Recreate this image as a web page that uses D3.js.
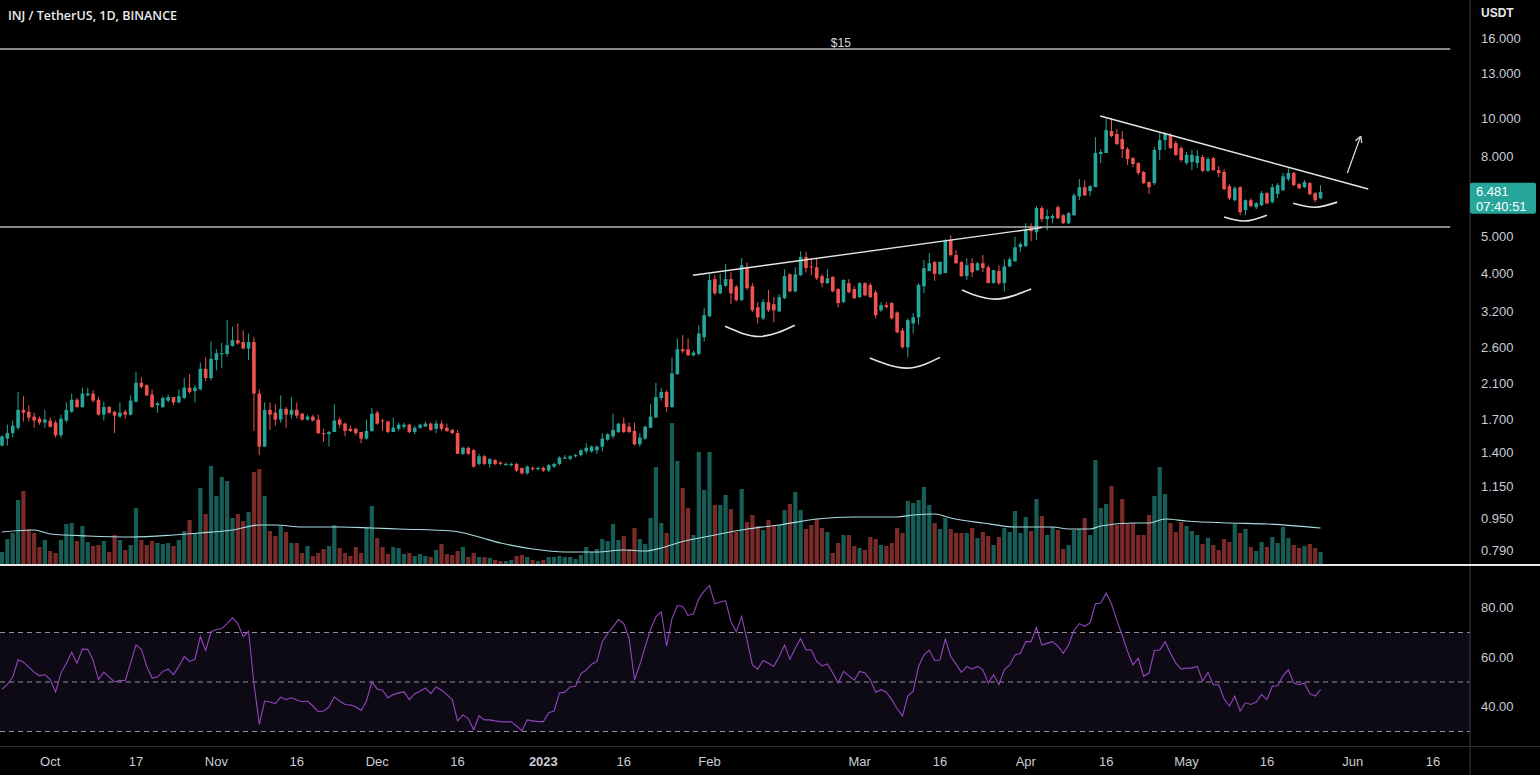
<!DOCTYPE html>
<html><head><meta charset="utf-8">
<script src="https://cdn.jsdelivr.net/npm/d3@7"></script>
<style>html,body{margin:0;padding:0;background:#000;overflow:hidden}svg{display:block}</style>
</head><body><svg id="c" width="1540" height="775"></svg>
<script>
// ---- data (daily candles from 2022-09-22) ----
const startDate = "2022-09-22";
const opens = [1.46,1.52,1.57,1.62,1.80,1.78,1.73,1.71,1.67,1.69,
1.67,1.55,1.69,1.78,1.91,1.83,1.96,1.98,1.91,1.75,
1.83,1.78,1.73,1.78,1.75,1.89,2.11,2.08,1.97,1.85,
1.83,1.90,1.94,1.88,1.93,2.05,2.01,2.03,2.29,2.17,
2.41,2.50,2.50,2.62,2.71,2.68,2.58,2.68,1.98,1.45,
1.80,1.77,1.70,1.81,1.75,1.80,1.76,1.70,1.73,1.70,
1.57,1.56,1.58,1.70,1.66,1.61,1.61,1.58,1.52,1.59,
1.77,1.69,1.68,1.58,1.61,1.63,1.65,1.58,1.62,1.63,
1.66,1.61,1.66,1.62,1.60,1.57,1.39,1.44,1.42,1.31,
1.37,1.31,1.34,1.32,1.30,1.30,1.31,1.28,1.24,1.28,
1.27,1.28,1.26,1.29,1.31,1.35,1.35,1.37,1.38,1.41,
1.41,1.42,1.45,1.51,1.54,1.58,1.66,1.63,1.59,1.47,
1.52,1.62,1.72,1.93,2.00,1.83,2.22,2.57,2.57,2.48,
2.50,2.76,3.12,3.88,3.57,3.73,3.88,3.71,3.43,4.16,
3.72,3.29,3.08,3.39,3.35,3.21,3.47,3.99,3.61,3.97,
4.42,4.18,4.16,3.95,3.79,3.93,3.66,3.39,3.79,3.66,
3.49,3.79,3.75,3.59,3.23,3.33,3.37,3.19,2.87,2.60,
2.99,3.10,3.72,4.07,4.29,4.00,4.02,4.88,4.47,4.29,
3.95,4.26,4.09,4.26,4.16,3.79,4.07,3.79,4.18,4.31,
4.68,4.71,5.26,5.11,5.89,5.52,5.55,5.92,5.65,5.39,
5.65,6.31,6.66,6.51,6.66,8.09,8.14,9.26,9.10,8.84,
8.33,7.90,7.67,7.28,6.86,6.82,8.29,8.78,9.04,8.63,
8.38,7.67,7.72,7.67,7.95,7.33,7.90,7.36,7.28,6.70,
6.17,6.66,5.82,6.17,5.92,5.99,6.43,6.10,6.40,6.54,
6.98,7.24,6.78,6.66,6.82,6.43,6.24];
const highs = [1.55,1.65,1.69,2.00,1.95,1.85,1.77,1.73,1.80,1.72,
1.69,1.75,1.88,1.98,1.93,2.05,2.05,2.02,1.94,1.89,
1.84,1.79,1.88,1.80,1.96,2.25,2.18,2.09,2.03,1.89,
1.95,1.97,1.94,2.03,2.17,2.22,2.08,2.38,2.45,2.69,
2.57,2.67,3.05,2.93,2.99,2.87,2.82,2.76,2.03,1.88,
1.88,1.86,1.96,1.83,1.94,1.88,1.77,1.75,1.75,1.75,
1.61,1.59,1.86,1.72,1.67,1.64,1.62,1.58,1.70,1.82,
1.79,1.71,1.69,1.72,1.67,1.67,1.66,1.64,1.66,1.68,
1.67,1.69,1.69,1.66,1.61,1.60,1.45,1.45,1.43,1.39,
1.38,1.35,1.35,1.33,1.32,1.32,1.32,1.28,1.30,1.29,
1.29,1.29,1.31,1.32,1.37,1.38,1.38,1.39,1.43,1.48,
1.46,1.46,1.57,1.57,1.76,1.67,1.72,1.67,1.67,1.57,
1.64,1.86,2.11,2.05,2.02,2.45,2.74,2.79,2.74,2.55,
2.96,3.27,4.00,3.97,4.00,4.24,4.04,3.75,4.39,4.28,
3.79,3.39,3.45,3.64,3.49,3.55,4.11,4.02,4.16,4.57,
4.55,4.39,4.39,4.00,4.11,3.95,3.68,3.88,3.88,3.72,
3.81,3.81,3.79,3.64,3.39,3.39,3.39,3.21,2.91,3.08,
3.18,3.79,4.34,4.52,4.31,4.31,4.91,5.02,4.60,4.31,
4.39,4.39,4.29,4.47,4.21,4.09,4.21,4.36,4.42,4.97,
4.82,5.39,5.39,5.96,5.96,5.85,5.68,5.99,5.68,5.75,
6.43,6.98,6.94,6.74,8.94,8.33,9.94,9.99,9.37,9.26,
8.43,7.95,7.72,7.33,6.90,8.43,9.20,9.20,9.15,8.73,
8.48,8.19,8.29,8.29,8.05,7.95,7.95,7.54,7.40,6.78,
6.70,6.70,6.20,6.24,6.10,6.51,6.47,6.78,6.82,7.24,
7.50,7.28,6.82,6.94,6.86,6.47,6.74];
const lows = [1.45,1.46,1.53,1.60,1.68,1.68,1.62,1.65,1.62,1.62,
1.53,1.53,1.67,1.77,1.82,1.82,1.95,1.88,1.74,1.69,
1.76,1.57,1.72,1.71,1.74,1.88,2.04,1.95,1.82,1.77,
1.82,1.88,1.85,1.87,1.92,1.98,1.88,2.02,2.13,2.14,
2.27,2.30,2.46,2.61,2.64,2.57,2.41,1.59,1.38,1.45,
1.60,1.64,1.67,1.62,1.71,1.71,1.69,1.69,1.68,1.56,
1.49,1.45,1.58,1.62,1.54,1.58,1.55,1.48,1.51,1.58,
1.65,1.59,1.57,1.58,1.59,1.61,1.57,1.56,1.61,1.63,
1.59,1.57,1.59,1.58,1.56,1.39,1.38,1.38,1.28,1.30,
1.30,1.28,1.30,1.30,1.30,1.29,1.25,1.23,1.23,1.26,
1.26,1.25,1.25,1.28,1.30,1.35,1.34,1.36,1.37,1.39,
1.40,1.39,1.41,1.50,1.52,1.57,1.57,1.57,1.46,1.45,
1.51,1.62,1.72,1.90,1.78,1.82,2.21,2.51,2.47,2.46,
2.48,2.69,3.10,3.53,3.55,3.71,3.35,3.40,3.41,3.64,
3.20,2.99,3.05,3.20,3.01,3.20,3.45,3.59,3.59,3.95,
4.04,3.97,3.86,3.70,3.77,3.59,3.29,3.37,3.57,3.45,
3.47,3.51,3.47,3.08,3.20,3.27,3.06,2.82,2.58,2.45,
2.82,2.97,3.57,4.06,3.84,3.97,4.02,4.43,4.24,3.93,
3.86,3.93,4.07,4.04,3.79,3.78,3.75,3.61,4.16,4.29,
4.55,4.68,4.85,4.88,5.42,5.17,5.39,5.52,5.36,5.36,
5.62,6.17,6.31,6.32,6.66,7.67,8.14,8.94,8.53,7.90,
7.59,7.50,7.15,6.78,6.40,6.74,7.81,8.29,8.33,8.00,
7.72,7.59,7.36,7.45,7.28,7.28,7.33,7.06,6.54,6.17,
6.13,5.65,5.65,5.92,5.85,5.96,6.02,6.06,6.24,6.51,
6.90,6.70,6.58,6.62,6.35,6.10,6.20];
const closes = [1.54,1.57,1.64,1.80,1.77,1.72,1.69,1.67,1.70,1.63,
1.55,1.71,1.80,1.91,1.83,1.98,1.98,1.90,1.75,1.83,
1.77,1.74,1.77,1.75,1.90,2.11,2.06,1.96,1.83,1.87,
1.93,1.94,1.88,1.95,2.05,2.00,2.05,2.29,2.17,2.43,
2.51,2.51,2.63,2.71,2.66,2.58,2.68,1.98,1.45,1.80,
1.75,1.70,1.81,1.75,1.80,1.74,1.70,1.73,1.69,1.57,
1.56,1.58,1.69,1.65,1.59,1.59,1.57,1.52,1.59,1.76,
1.66,1.68,1.58,1.62,1.65,1.65,1.58,1.62,1.65,1.66,
1.60,1.66,1.61,1.59,1.57,1.39,1.44,1.39,1.29,1.37,
1.31,1.35,1.31,1.31,1.31,1.31,1.26,1.24,1.29,1.27,
1.28,1.26,1.30,1.31,1.36,1.36,1.37,1.38,1.42,1.44,
1.45,1.45,1.52,1.56,1.60,1.66,1.58,1.58,1.47,1.53,
1.63,1.73,1.94,2.00,1.83,2.23,2.57,2.54,2.48,2.52,
2.82,3.14,3.86,3.57,3.75,3.88,3.57,3.43,4.21,3.68,
3.23,3.10,3.39,3.23,3.23,3.49,3.95,3.61,3.99,4.42,
4.14,4.16,3.90,3.79,3.90,3.61,3.37,3.86,3.59,3.47,
3.79,3.53,3.49,3.14,3.33,3.29,3.08,2.84,2.60,3.05,
3.10,3.75,4.14,4.26,4.00,4.29,4.85,4.47,4.26,3.95,
4.21,4.04,4.26,4.14,3.79,4.09,3.79,4.18,4.36,4.68,
4.77,5.20,5.14,5.89,5.52,5.62,5.62,5.55,5.39,5.72,
6.35,6.66,6.35,6.70,8.14,8.19,9.31,8.99,8.58,8.33,
7.86,7.63,7.24,6.82,6.66,8.29,8.78,9.10,8.38,8.05,
7.81,8.05,8.05,8.00,7.33,7.86,7.36,7.24,6.58,6.24,
6.62,5.75,6.17,5.96,6.06,6.43,6.06,6.66,6.74,7.10,
7.24,6.74,6.62,6.86,6.39,6.17,6.481];
// volume (thousand INJ)
const volumes = [600,1250,1550,3200,3650,1750,1550,850,1200,650,
550,1200,2000,2050,1150,1900,1100,900,950,1150,
600,1450,1200,700,950,2800,1200,950,1150,1050,
1000,1050,900,1200,1650,2200,1550,3800,2500,4900,
3400,4350,4150,2300,2500,2150,2600,4600,4750,3400,
1650,1400,1900,1600,1050,1050,550,900,400,550,
750,900,1950,800,550,400,850,550,1800,2900,
1300,850,500,850,800,500,550,400,500,400,
350,700,1000,500,450,650,850,350,550,350,
350,300,200,150,150,200,400,450,350,200,
150,200,350,350,400,350,350,250,450,850,
600,750,1250,1150,2000,1200,1400,750,1800,1250,
1000,2300,4850,2050,1550,7050,5150,
3800,2800,1450,5600,3700,5600,2950,2950,3450,2750,
1600,3750,2100,2450,1900,1700,2200,1950,1950,2700,
3000,3600,2700,1750,1950,2250,1800,1600,550,1050,
1450,1450,900,800,700,1350,1250,950,900,1050,
1800,1550,3150,3050,3200,3850,2950,2050,1750,2300,
1750,1550,1550,1550,1800,1300,1600,1400,950,1350,
1800,1600,2650,1550,2350,1650,3250,2400,1450,1850,
1700,750,950,1700,1750,2300,1450,5200,2800,3000,
3900,1950,3250,2000,2050,1450,1450,2450,3400,4850,
3500,2050,1600,2100,1900,1650,1450,1000,1300,950,
700,1250,1100,2000,1550,1750,850,650,1100,850,
1350,1050,1850,1300,950,800,900,1000,800,600];
// volume moving average read at candle indices
const volMaIdx = [0,6,9,16,24,32,37,43,48,51,56,63,69,74,84,89,93,99,105,111,116,120,123,126,133,139,145,152,159,167,170,174,177,183,189,196,199,203,205,211,214,217,221,229,236,246];
const volMaVal = [1600,1700,1500,1400,1350,1450,1550,1700,1950,1950,1850,1850,1800,1750,1650,1350,1050,750,600,600,700,650,800,1050,1450,1750,1950,2250,2350,2350,2450,2500,2300,2050,1850,1850,1750,1750,1900,2050,2050,2250,2150,2050,2000,1800];
const rsi = [47,49,52,59,58,56,54,52.5,53,51,
46,53.6,57.6,62,57.6,63.3,63.2,58.7,51,54,
52,50,50.7,50.5,57.6,65,63.2,56.3,51.6,52,
54.3,55.2,53,56.3,60.3,58.3,59.2,68.3,62.7,70.3,
71.2,71.6,73.6,75.9,73.6,68.3,70.5,49.6,32.9,42.3,
41.9,41.3,43.9,42.9,43.6,42.7,42,42.3,40.3,38,
38.3,39.9,43.9,42.3,40.9,40.7,40,38.5,42.3,50,
47.2,46.7,43.6,44.9,45.6,46,42.9,45.3,46.3,47.6,
45.3,48,46.7,44.9,42.9,34.3,36.7,35.2,30.7,36.3,
34.7,34.7,34.3,34,33.9,33.9,32.3,30.3,34.7,34.3,
34,34,37.6,38.3,45.6,45.9,48,48.3,53.3,54.9,
57.2,58.3,66.3,69.6,72.3,75.2,73.6,67.6,50.9,57,
64.3,71.2,76.3,78.3,64.5,75.6,80.9,
80.5,76.9,77.6,83.6,86.7,89,81.6,82.3,82.9,74.3,
70.3,76.5,66.9,56.9,55.2,58.7,57.6,56.3,60.3,64.9,
59.2,63.6,67.6,62.9,62.9,58.3,56.5,57.3,53.6,49.6,
54.3,52.5,50.7,54.3,53.6,50.9,45.9,46.9,45.9,42.9,
39.2,36.3,44.3,46.3,56.3,60.9,62.9,58.7,58.9,67.3,
60.3,57.2,53.9,56.3,55.2,56.3,54.9,49.6,52.9,48.9,
54.9,56.9,60.9,61.6,66.3,66.3,72,64.9,65.6,66.3,
64.5,61.6,64.9,70.9,73.6,72.5,73.9,81.6,81.9,85.9,
81.6,74.9,68.9,62.3,56.9,59.6,52.3,53.6,62.7,62.9,
66.3,61.6,57.6,55.2,55.6,55.6,56.3,50.3,53.9,48.9,
48.9,43.2,40.3,44.3,38.3,41.6,40.9,41.9,44.9,42.9,
48.3,48.5,52.5,54.9,49.6,48.9,49.6,45.3,44.3,46.9];
// axis ticks
const priceTicks = [16,13,10,8,5,4,3.2,2.6,2.1,1.7,1.4,1.15,0.95,0.79];
const rsiTicks = [80,60,40];
const rsiLevels = [70,50,30];
const xTickDates = ["2022-10-01","2022-10-17","2022-11-01","2022-11-16","2022-12-01","2022-12-16","2023-01-01","2023-01-16","2023-02-01","2023-03-01","2023-03-16","2023-04-01","2023-04-16","2023-05-01","2023-05-16","2023-06-01","2023-06-16"];
const xTickLabels = ["Oct","17","Nov","16","Dec","16","2023","16","Feb","Mar","16","Apr","16","May","16","Jun","16"];
// drawings: [candle index, price]
const hLevels = [15, 5.27];
const hLevelEnd = 270.2;
const trendUp = [[128.9,3.97],[194.0,5.25]];
const trendDown = [[204.9,10.12],[254.9,6.59]];
const arcs = [
  [[134.9,2.94],[141.4,2.77],[147.9,2.96]],
  [[161.9,2.44],[168.8,2.30],[175.0,2.45]],
  [[179.1,3.64],[185.3,3.45],[192.0,3.66]],
  [[228.0,5.59],[231.9,5.46],[236.0,5.65]],
  [[240.9,6.06],[245.0,5.92],[249.1,6.10]]
];
const arrow = [[251.0,7.24],[253.5,8.99]];
const lastPrice = 6.481, countdown = "07:40:51";

// ---- drawing ----
const svg = d3.select("#c");
const DAY = 864e5;
const t0 = Date.parse(startDate + "T00:00:00Z");
const idxDate = i => new Date(t0 + i * DAY);
const dates = closes.map((_, i) => idxDate(i));
const x = d3.scaleUtc().domain([new Date(t0), new Date(Date.parse("2023-06-16T00:00:00Z"))]).range([2, 1433.1]);
const y = d3.scaleLog().domain([0.79, 16]).range([550, 38]);
const yV = d3.scaleLinear().domain([0, 7050]).range([564, 423]);
const yR = d3.scaleLinear().domain([30, 70]).range([731.5, 632.5]);
const xi = i => x(idxDate(i));

const GREEN = "#26a69a", RED = "#ef5350";
const VGREEN = "#185c56", VRED = "#7a2b29";
const FONT = "'Liberation Sans', Arial, sans-serif";
const TXT = "#c9ccd4";

svg.append("rect").attr("width", 1540).attr("height", 775).attr("fill", "#000");
const defs = svg.append("defs");
defs.append("clipPath").attr("id", "mainClip").append("rect").attr("x", 0).attr("y", 0).attr("width", 1470).attr("height", 564);
defs.append("clipPath").attr("id", "rsiClip").append("rect").attr("x", 0).attr("y", 567).attr("width", 1470).attr("height", 178);

// RSI pane background band
const rsiG = svg.append("g").attr("clip-path", "url(#rsiClip)");
rsiG.append("rect").attr("x", 0).attr("width", 1470)
  .attr("y", yR(70)).attr("height", yR(30) - yR(70)).attr("fill", "#0e0a15");
rsiG.selectAll("line.lvl").data(rsiLevels).join("line")
  .attr("x1", 0).attr("x2", 1470).attr("y1", d => yR(d)).attr("y2", d => yR(d))
  .attr("stroke", "#8f919b").attr("stroke-width", 1).attr("stroke-dasharray", "5,4");
rsiG.append("path").datum(rsi)
  .attr("d", d3.line().x((d, i) => xi(i)).y(d => yR(d)))
  .attr("fill", "none").attr("stroke", "#9146bd").attr("stroke-width", 1.1);

// main pane
const mainG = svg.append("g").attr("clip-path", "url(#mainClip)");
// volume
mainG.selectAll("rect.vol").data(volumes).join("rect")
  .attr("x", (d, i) => xi(i) - 2.1).attr("width", 4.2)
  .attr("y", d => yV(d)).attr("height", d => yV(0) - yV(d))
  .attr("fill", (d, i) => closes[i] >= opens[i] ? VGREEN : VRED);
mainG.append("path").datum(volMaIdx.map((k, j) => [k, volMaVal[j]]))
  .attr("d", d3.line().x(d => xi(d[0])).y(d => yV(d[1])).curve(d3.curveMonotoneX))
  .attr("fill", "none").attr("stroke", "#a9dbe0").attr("stroke-width", 1.2);

// candles
const cg = mainG.append("g");
dates.forEach((d, i) => {
  const up = closes[i] >= opens[i];
  const col = up ? GREEN : RED;
  const cx = xi(i);
  cg.append("line").attr("x1", cx).attr("x2", cx).attr("y1", y(highs[i])).attr("y2", y(lows[i]))
    .attr("stroke", col).attr("stroke-width", 1);
  const top = y(Math.max(opens[i], closes[i])), bot = y(Math.min(opens[i], closes[i]));
  cg.append("rect").attr("x", cx - 1.8).attr("width", 3.6)
    .attr("y", top).attr("height", Math.max(1, bot - top)).attr("fill", col);
});

// drawings
const dg = mainG.append("g").attr("fill", "none");
hLevels.forEach(p => {
  dg.append("line").attr("x1", 0).attr("x2", xi(hLevelEnd)).attr("y1", y(p)).attr("y2", y(p))
    .attr("stroke", "#b4b4b4").attr("stroke-width", 1.6);
});
dg.append("text").attr("x", xi(156.5)).attr("y", y(hLevels[0]) - 1.5).attr("text-anchor", "middle")
  .attr("fill", "#d9d9d9").attr("font-family", FONT).attr("font-size", 12).text("$15");
const lineP = d3.line().x(d => xi(d[0])).y(d => y(d[1]));
[trendUp, trendDown].forEach(t => dg.append("path").attr("d", lineP(t)).attr("stroke", "#e6e6e6").attr("stroke-width", 1.4));
const arcLine = d3.line().x(d => xi(d[0])).y(d => y(d[1])).curve(d3.curveNatural);
arcs.forEach(a => dg.append("path").attr("d", arcLine(a)).attr("stroke", "#e6e6e6").attr("stroke-width", 1.6));
// arrow
const ax1 = xi(arrow[0][0]), ay1 = y(arrow[0][1]), ax2 = xi(arrow[1][0]), ay2 = y(arrow[1][1]);
dg.append("line").attr("x1", ax1).attr("y1", ay1).attr("x2", ax2).attr("y2", ay2).attr("stroke", "#e6e6e6").attr("stroke-width", 1.2);
const ang = Math.atan2(ay2 - ay1, ax2 - ax1);
[0.5, -0.5].forEach(s => {
  const a = ang + Math.PI + s;
  dg.append("line").attr("x1", ax2).attr("y1", ay2).attr("x2", ax2 + 7 * Math.cos(a)).attr("y2", ay2 + 7 * Math.sin(a))
    .attr("stroke", "#e6e6e6").attr("stroke-width", 1.2);
});

// frame lines
svg.append("line").attr("x1", 1470).attr("x2", 1470).attr("y1", 0).attr("y2", 775).attr("stroke", "#3a3d45").attr("stroke-width", 1);
svg.append("line").attr("x1", 0).attr("x2", 1540).attr("y1", 746.5).attr("y2", 746.5).attr("stroke", "#2f3238").attr("stroke-width", 1);
svg.append("line").attr("x1", 0).attr("x2", 1540).attr("y1", 565).attr("y2", 565).attr("stroke", "#e8e8e8").attr("stroke-width", 2);

// price axis
const ax = svg.append("g").attr("font-family", FONT).attr("font-size", 13).attr("fill", TXT);
ax.selectAll("text.p").data(priceTicks).join("text")
  .attr("x", 1481).attr("y", d => y(d)).attr("dy", "0.35em").text(d => d3.format(".3f")(d));
ax.append("text").attr("x", 1481).attr("y", 13).attr("dy", "0.35em").attr("font-weight", "bold").attr("font-size", 12).attr("fill", "#e8e8e8").text("USDT");
ax.selectAll("text.r").data(rsiTicks).join("text")
  .attr("x", 1481).attr("y", d => yR(d)).attr("dy", "0.35em").text(d => d3.format(".2f")(d));
// last price label
const ly = y(lastPrice);
svg.append("rect").attr("x", 1470).attr("y", ly - 9).attr("width", 66).attr("height", 31).attr("rx", 2).attr("fill", GREEN);
svg.append("text").attr("x", 1476).attr("y", ly).attr("dy", "0.35em").attr("font-family", FONT).attr("font-size", 13).attr("fill", "#fff").text(d3.format(".3f")(lastPrice));
svg.append("text").attr("x", 1476).attr("y", ly + 15).attr("dy", "0.35em").attr("font-family", FONT).attr("font-size", 13).attr("fill", "#fff").text(countdown);

// time axis
const tx = svg.append("g").attr("font-family", FONT).attr("font-size", 13).attr("fill", TXT).attr("text-anchor", "middle");
tx.selectAll("text").data(xTickDates).join("text")
  .attr("x", d => x(new Date(Date.parse(d + "T00:00:00Z")))).attr("y", 761).attr("dy", "0.35em")
  .attr("font-weight", (d, i) => xTickLabels[i] === "2023" ? "bold" : "normal")
  .text((d, i) => xTickLabels[i]);

// title
svg.append("text").attr("x", 8).attr("y", 16).attr("dy", "0.35em").attr("font-family", "'Open Sans', 'Noto Sans', sans-serif")
  .attr("font-size", 12.5).attr("font-weight", 600).attr("fill", "#ececec").text("INJ / TetherUS, 1D, BINANCE");
</script>
</body></html>
